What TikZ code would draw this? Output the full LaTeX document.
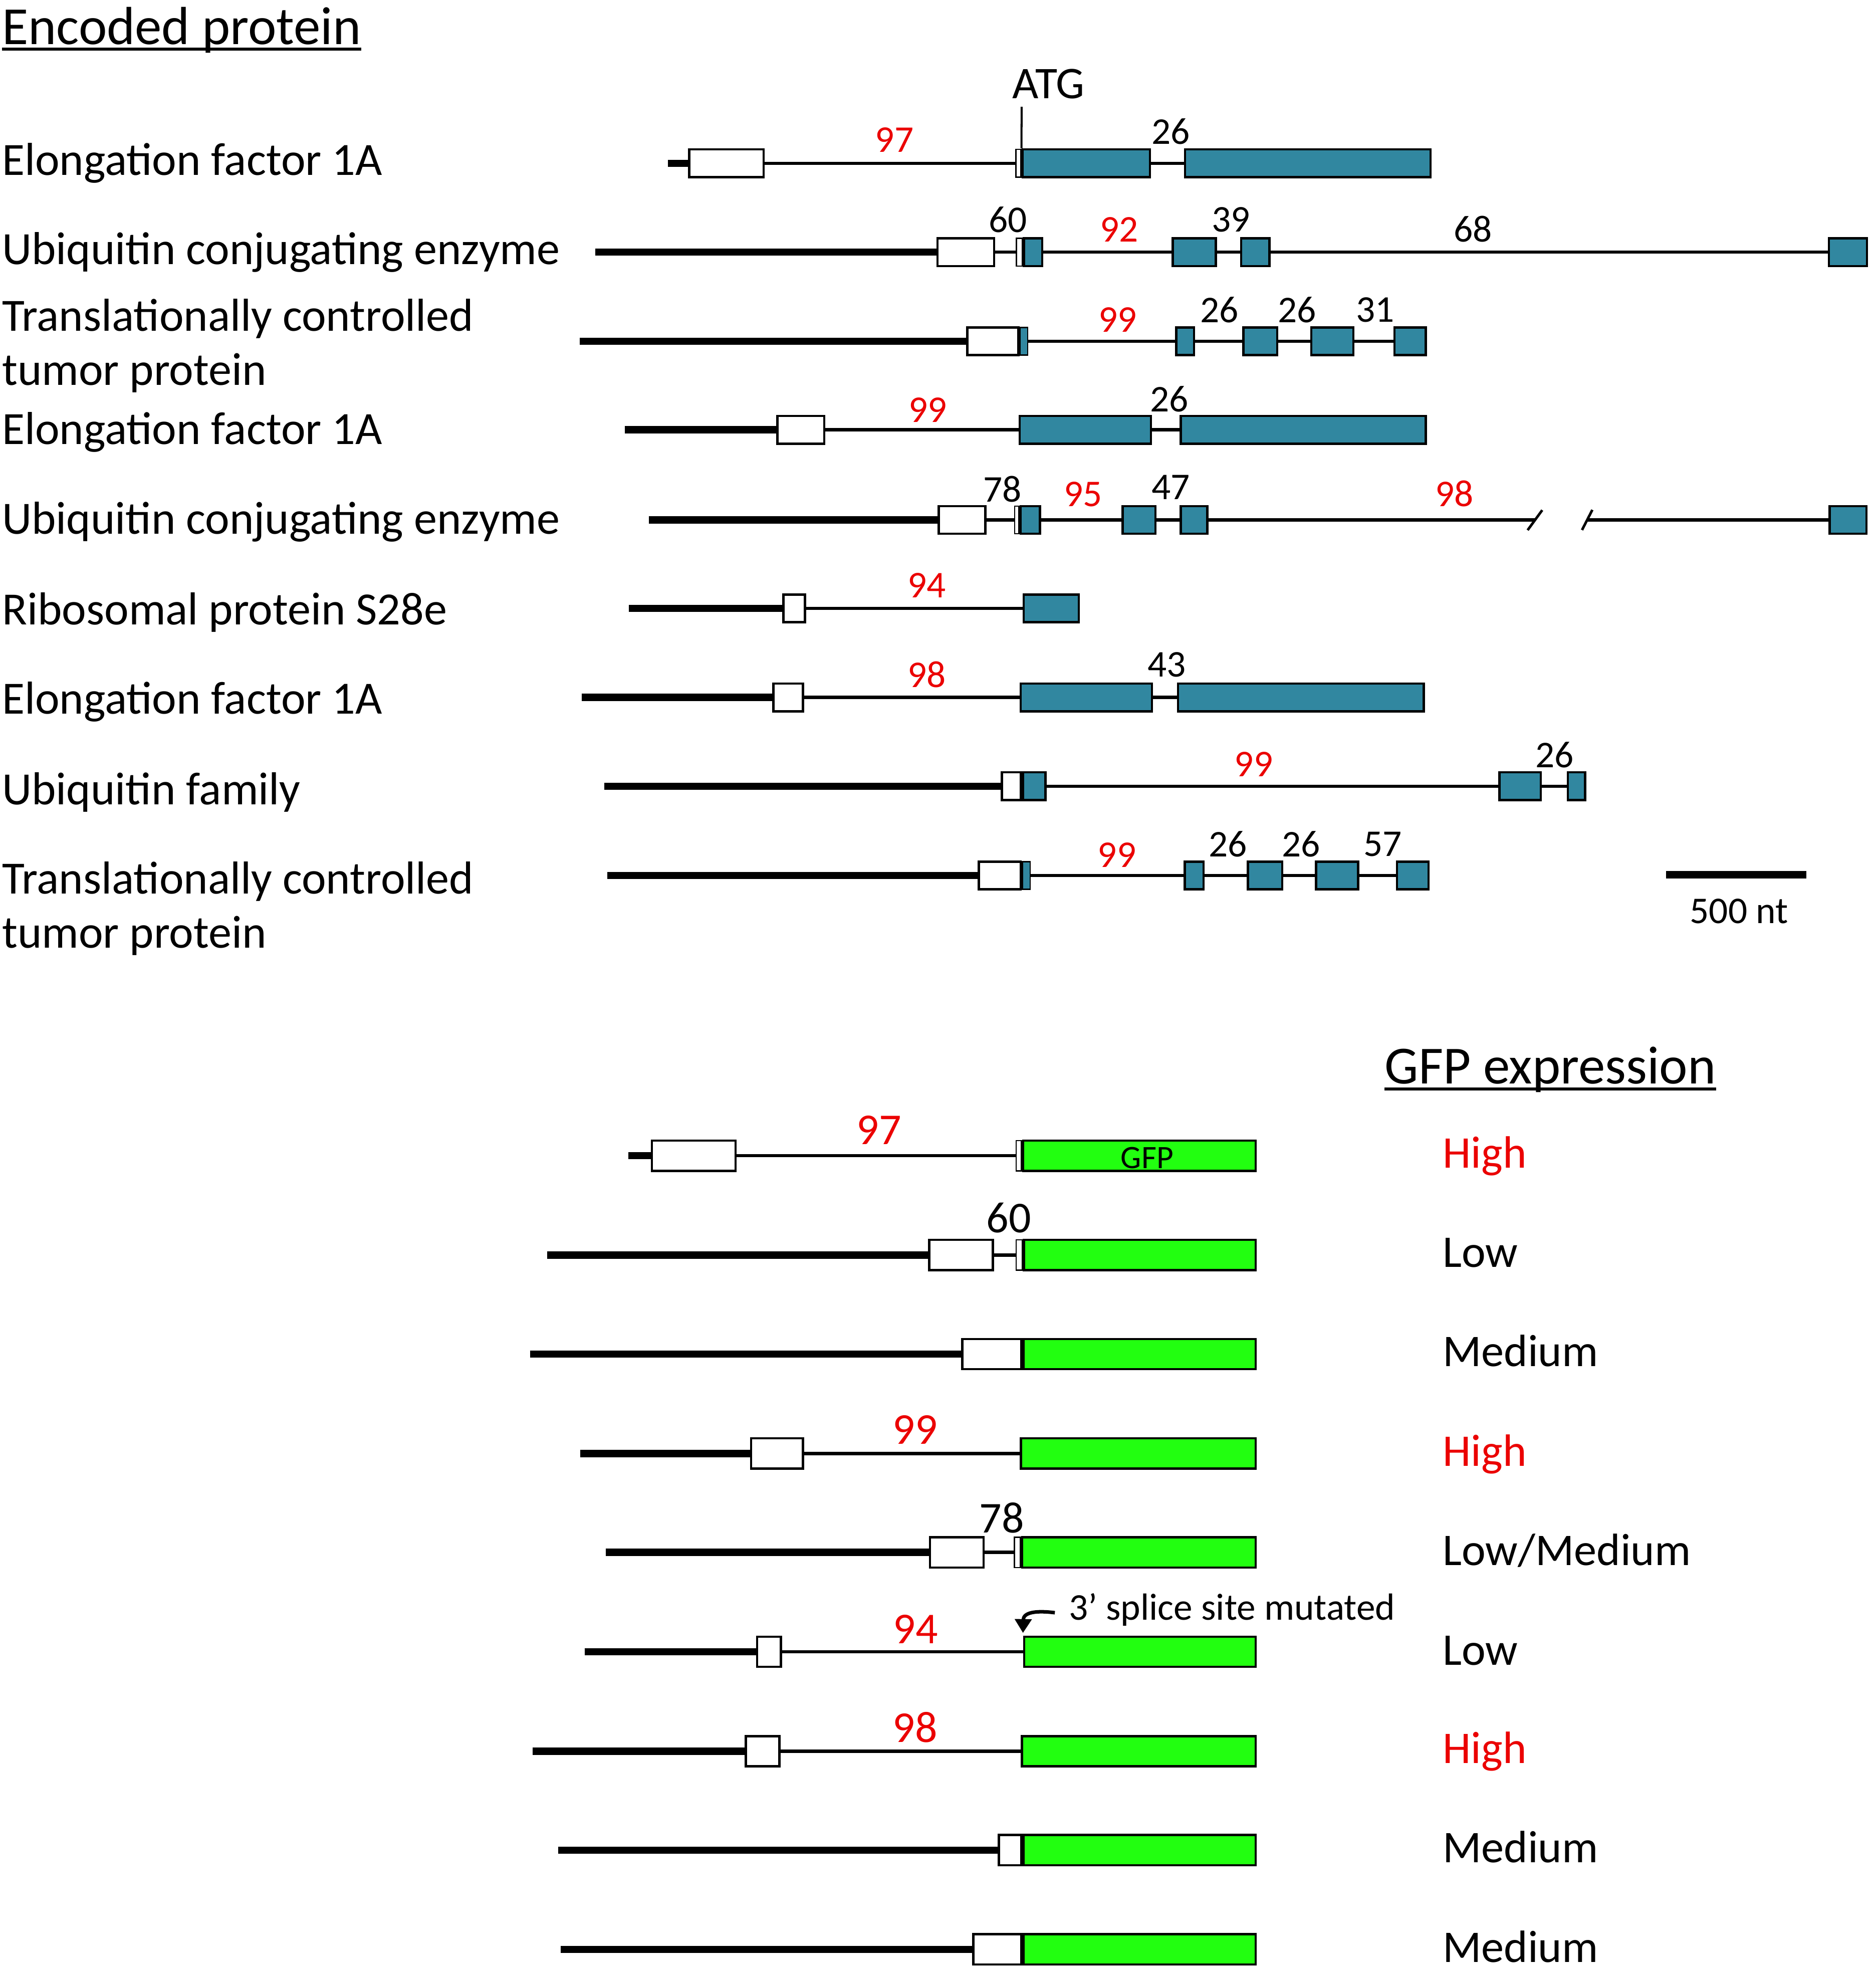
\documentclass[tikz,border=0pt]{standalone}
\usepackage{fontspec}
\setmainfont{Carlito}
\usetikzlibrary{arrows.meta}
\definecolor{exteal}{RGB}{49,135,160}
\definecolor{exgreen}{RGB}{34,255,16}
\definecolor{idred}{RGB}{235,0,0}
\tikzset{
 exbox/.style={draw=black, line width=1.8pt, inner sep=0pt, minimum height=22pt},
 exboxL/.style={exbox, minimum height=24pt},
 wU/.style={exbox, fill=white}, tU/.style={exbox, fill=exteal},
 wL/.style={exboxL, fill=white}, gL/.style={exboxL, fill=exgreen},
 thinbox/.style={line width=1pt},
 utr/.style={line width=5.8pt},
 intron/.style={line width=2.6pt},
 gene/.style={anchor=base west, inner sep=0pt, font=\fontsize{36.7}{40}\selectfont},
 num/.style={inner sep=0pt, font=\fontsize{30}{34}\selectfont},
 numL/.style={inner sep=0pt, font=\fontsize{35}{40}\selectfont},
 idn/.style={num, text=idred}, idnL/.style={numL, text=idred},
 hdr/.style={anchor=base west, inner sep=0pt, font=\fontsize{42.6}{46}\selectfont},
 expr/.style={anchor=base west, inner sep=0pt, font=\fontsize{36}{40}\selectfont},
 smalltxt/.style={inner sep=0pt, font=\fontsize{30}{34}\selectfont},
}
\newcommand\exn[5]{\node[#1, minimum width={#4-#3-1.8}] (#2) at ({(#3+#4)/2},#5) {};}
\newcommand\exnn[5]{\node[#1, thinbox, minimum width={#4-#3-1}] (#2) at ({(#3+#4)/2},#5) {};}
\begin{document}
\begin{tikzpicture}[x=1pt,y=-1pt]
\useasboundingbox[fill=white] (0,0) rectangle (1490,1568);

% headers
\node[hdr] (hdrA) at (1.5,35.2) {Encoded protein};
\draw[line width=2.4pt] ([yshift=-3.8pt]hdrA.base west) -- ([yshift=-3.8pt]hdrA.base east);
\node[hdr] (hdrB) at (1100,860.9) {GFP expression};
\draw[line width=2.7pt] ([yshift=-4.1pt]hdrB.base west) -- ([yshift=-4.1pt]hdrB.base east);

% gene names
\node[gene] (nA) at (1.5,139.3) {Elongation factor 1A};
\node[gene] (nB) at (1.5,210) {Ubiquitin conjugating enzyme};
\node[gene] (nC1) at (1.5,263) {Translationally controlled};
\node[gene] (nC2) at (1.5,306) {tumor protein};
\node[gene] (nD) at (1.5,353) {Elongation factor 1A};
\node[gene] (nE) at (1.5,424) {Ubiquitin conjugating enzyme};
\node[gene] (nF) at (1.5,496) {Ribosomal protein S28e};
\node[gene] (nG) at (1.5,567) {Elongation factor 1A};
\node[gene] (nH) at (1.5,639) {Ubiquitin family};
\node[gene] (nI1) at (1.5,710) {Translationally controlled};
\node[gene] (nI2) at (1.5,753) {tumor protein};

% Row 1
\coordinate (a0) at (530.8,129.7);
\exn{wU}{a1}{546.6}{607.5}{129.7}
\exnn{wU}{a2}{806.5}{811.5}{129.7}
\exn{tU}{a3}{811.5}{914.5}{129.7}
\exn{tU}{a4}{940.5}{1137.4}{129.7}
\draw[utr] (a0) -- (a1);
\draw[intron] (a1) -- (a2) (a3) -- (a4);
\coordinate (atg) at (811.6,84.8);
\draw[line width=1.6pt] (atg) -- (a3.north west);
\node[inner sep=0pt, font=\fontsize{36}{40}\selectfont] (atgl) at (833,66.5) {ATG};
\node[idn] (la1) at (710.6,111) {97};
\node[num] (la2) at (930,104.4) {26};

% Row 2
\coordinate (b0) at (473,200.3);
\exn{wU}{b1}{743.8}{790.7}{200.3}
\exnn{wU}{b2}{806.9}{812.6}{200.3}
\exn{tU}{b3}{812.6}{828.8}{200.3}
\exn{tU}{b4}{930.7}{966.9}{200.3}
\exn{tU}{b5}{985.2}{1009.5}{200.3}
\exn{tU}{b6}{1452}{1484}{200.3}
\draw[utr] (b0) -- (b1);
\draw[intron] (b1) -- (b2) (b3) -- (b4) (b4) -- (b5) (b5) -- (b6);
\node[num] (lb1) at (800.6,174.6) {60};
\node[idn] (lb2) at (889,182.5) {92};
\node[num] (lb3) at (978,174.6) {39};
\node[num] (lb4) at (1170,182) {68};

% Row 3
\coordinate (c0) at (460.5,271.1);
\exn{wU}{c1}{767.6}{810}{271.1}
\exnn{tU}{c2}{810}{817}{271.1}
\exn{tU}{c3}{933.5}{949.5}{271.1}
\exn{tU}{c4}{987}{1015.6}{271.1}
\exn{tU}{c5}{1040.8}{1076}{271.1}
\exn{tU}{c6}{1107}{1133.5}{271.1}
\draw[utr] (c0) -- (c1);
\draw[intron] (c2) -- (c3) (c3) -- (c4) (c4) -- (c5) (c5) -- (c6);
\node[idn] (lc1) at (887.8,253.9) {99};
\node[num] (lc2) at (968.6,246.3) {26};
\node[num] (lc3) at (1030.3,246.3) {26};
\node[num] (lc4) at (1092.5,246.3) {31};

% Row 4
\coordinate (d0) at (496.3,341.4);
\exn{wU}{d1}{616.8}{655.7}{341.4}
\exn{tU}{d2}{809.2}{915.2}{341.4}
\exn{tU}{d3}{937.1}{1133.5}{341.4}
\draw[utr] (d0) -- (d1);
\draw[intron] (d1) -- (d2) (d2) -- (d3);
\node[idn] (ld1) at (737,325.5) {99};
\node[num] (ld2) at (928.8,317.1) {26};

% Row 5
\coordinate (e0) at (515.4,413);
\exn{wU}{e1}{744.8}{783.6}{413}
\exnn{wU}{e2}{805.5}{810}{413}
\exn{tU}{e3}{810}{827}{413}
\exn{tU}{e4}{891}{918.9}{413}
\exn{tU}{e5}{937.1}{960}{413}
\exn{tU}{e6}{1452.6}{1483.7}{413}
\coordinate (brk1) at (1219.4,413);
\coordinate (brk2) at (1261,413);
\draw[utr] (e0) -- (e1);
\draw[intron] (e1) -- (e2) (e3) -- (e4) (e4) -- (e5) (e5) -- (brk1) (brk2) -- (e6);
\coordinate (s1a) at (1213.6,421.1);
\coordinate (s1b) at (1225.2,405.2);
\coordinate (s2a) at (1256.8,421);
\coordinate (s2b) at (1265,405);
\draw[line width=2pt] (s1a) -- (s1b) (s2a) -- (s2b);
\node[num] (le1) at (796.4,388.7) {78};
\node[idn] (le2) at (860.4,392.5) {95};
\node[num] (le3) at (930.2,387.2) {47};
\node[idn] (le4) at (1155.5,392) {98};

% Row 6
\coordinate (f0) at (499.6,483.3);
\exn{wU}{f1}{621.4}{640.3}{483.3}
\exn{tU}{f2}{812.4}{858}{483.3}
\draw[utr] (f0) -- (f1);
\draw[intron] (f1) -- (f2);
\node[idn] (lf1) at (736.2,465) {94};

% Row 7
\coordinate (g0) at (462,554);
\exn{wU}{g1}{613.5}{638.7}{554}
\exn{tU}{g2}{810}{916}{554}
\exn{tU}{g3}{935}{1132}{554}
\draw[utr] (g0) -- (g1);
\draw[intron] (g1) -- (g2) (g2) -- (g3);
\node[idn] (lg1) at (736.2,535.9) {98};
\node[num] (lg2) at (927,528) {43};

% Row 8
\coordinate (h0) at (480.2,624.5);
\exn{wU}{h1}{795}{811.8}{624.5}
\exn{tU}{h2}{811.8}{831.4}{624.5}
\exn{tU}{h3}{1190.4}{1225}{624.5}
\exn{tU}{h4}{1244.6}{1260.2}{624.5}
\draw[utr] (h0) -- (h1);
\draw[intron] (h2) -- (h3) (h3) -- (h4);
\node[idn] (lh1) at (996,607) {99};
\node[num] (lh2) at (1235,599.6) {26};

% Row 9
\coordinate (i0) at (482.3,695.4);
\exn{wU}{i1}{776.7}{811.8}{695.4}
\exnn{tU}{i2}{811.8}{819}{695.4}
\exn{tU}{i3}{940.3}{957}{695.4}
\exn{tU}{i4}{990.5}{1019.6}{695.4}
\exn{tU}{i5}{1044.6}{1079.9}{695.4}
\exn{tU}{i6}{1108.9}{1135.7}{695.4}
\draw[utr] (i0) -- (i1);
\draw[intron] (i2) -- (i3) (i3) -- (i4) (i4) -- (i5) (i5) -- (i6);
\node[idn] (li1) at (887.3,679.2) {99};
\node[num] (li2) at (975.4,670.6) {26};
\node[num] (li3) at (1033.5,670.6) {26};
\node[num] (li4) at (1098.4,670.6) {57};

% scale bar
\coordinate (sb1) at (1323.7,695);
\coordinate (sb2) at (1434.9,695);
\draw[line width=6pt] (sb1) -- (sb2);
\node[smalltxt] (sbl) at (1381.5,724) {500 nt};

% ---------- GFP constructs ----------
% G1
\coordinate (j0) at (499.3,918);
\exn{wL}{j1}{517}{585.2}{918}
\exnn{wL}{j2}{806.7}{812}{918}
\exn{gL}{j3}{812}{998.5}{918}
\draw[utr] (j0) -- (j1);
\draw[intron] (j1) -- (j2);
\node[inner sep=0pt, font=\fontsize{26}{30}\selectfont] (gfpl) at (911.3,919.8) {GFP};
\node[idnL] (lj1) at (698.3,897.5) {97};
\node[expr, text=idred] (xj) at (1146,927.5) {High};

% G2
\coordinate (k0) at (434.6,996.9);
\exn{wL}{k1}{737.4}{789.6}{996.9}
\exnn{wL}{k2}{806.7}{812.6}{996.9}
\exn{gL}{k3}{812.6}{998.5}{996.9}
\draw[utr] (k0) -- (k1);
\draw[intron] (k1) -- (k2);
\node[numL] (lk1) at (801.3,967.3) {60};
\node[expr] (xk) at (1146,1006.5) {Low};

% G3
\coordinate (l0) at (421,1075.6);
\exn{wL}{l1}{763.5}{812.2}{1075.6}
\exn{gL}{l2}{812.2}{998.5}{1075.6}
\draw[utr] (l0) -- (l1);
\node[expr] (xl) at (1146,1085.5) {Medium};

% G4
\coordinate (m0) at (460.8,1154.5);
\exn{wL}{m1}{595.8}{638.7}{1154.5}
\exn{gL}{m2}{810.1}{998.5}{1154.5}
\draw[utr] (m0) -- (m1);
\draw[intron] (m1) -- (m2);
\node[idnL] (lm1) at (726.9,1135.5) {99};
\node[expr, text=idred] (xm) at (1146,1164.5) {High};

% G5
\coordinate (n0) at (481.4,1233.1);
\exn{wL}{n1}{737.9}{782.3}{1233.1}
\exnn{wL}{n2}{805.4}{811.2}{1233.1}
\exn{gL}{n3}{811.2}{998.5}{1233.1}
\draw[utr] (n0) -- (n1);
\draw[intron] (n1) -- (n2);
\node[numL] (ln1) at (795.8,1205.8) {78};
\node[expr] (xn) at (1146,1243.5) {Low/Medium};

% G6
\coordinate (o0) at (464.4,1312);
\exn{wL}{o1}{600.5}{621.2}{1312}
\exn{gL}{o2}{812.7}{998.5}{1312}
\draw[utr] (o0) -- (o1);
\draw[intron] (o1) -- (o2);
\node[idnL] (lo1) at (727.3,1294) {94};
\coordinate (arrs) at (838,1281);
\draw[line width=2.8pt, -{Triangle[width=13pt,length=11pt]}] (arrs) .. controls (822,1279) and (813,1281) .. ([yshift=2pt]o2.north west);
\node[smalltxt, anchor=base west] (spl) at (849,1286.8) {3’ splice site mutated};
\node[expr] (xo) at (1146,1322.5) {Low};

% G7
\coordinate (p0) at (423.2,1391);
\exn{wL}{p1}{591.6}{620.1}{1391}
\exn{gL}{p2}{811}{998.5}{1391}
\draw[utr] (p0) -- (p1);
\draw[intron] (p1) -- (p2);
\node[idnL] (lp1) at (726.9,1372.2) {98};
\node[expr, text=idred] (xp) at (1146,1400.5) {High};

% G8
\coordinate (q0) at (443.5,1469.6);
\exn{wL}{q1}{792.7}{812.2}{1469.6}
\exn{gL}{q2}{812.2}{998.5}{1469.6}
\draw[utr] (q0) -- (q1);
\node[expr] (xq) at (1146,1479.5) {Medium};

% G9
\coordinate (r0) at (445.5,1548.4);
\exn{wL}{r1}{772.4}{812.2}{1548.4}
\exn{gL}{r2}{812.2}{998.5}{1548.4}
\draw[utr] (r0) -- (r1);
\node[expr] (xr) at (1146,1558.5) {Medium};
\end{tikzpicture}
\end{document}
